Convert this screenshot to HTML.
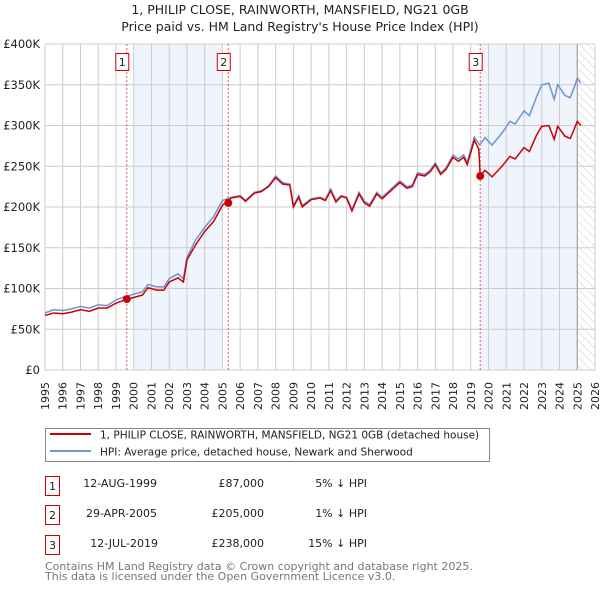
<!DOCTYPE html>
<html><head><meta charset="utf-8"><style>
body{margin:0;background:#fff;}
svg{display:block;font-family:"DejaVu Sans","Liberation Sans",sans-serif;}
</style></head><body>
<svg id="chart" width="600" height="590" viewBox="0 0 600 590">
<defs>
<pattern id="hatch" width="6" height="6" patternUnits="userSpaceOnUse" patternTransform="rotate(-45)">
<line x1="0" y1="0" x2="0" y2="6" stroke="#ccc" stroke-width="1"/>
</pattern>
</defs>
<text x="300" y="14" text-anchor="middle" font-size="12.5" fill="#222">1, PHILIP CLOSE, RAINWORTH, MANSFIELD, NG21 0GB</text>
<text x="300" y="31" text-anchor="middle" font-size="12.5" fill="#222">Price paid vs. HM Land Registry's House Price Index (HPI)</text>
<g id="plot"></g>
<g>
<rect x="45.5" y="428.5" width="444" height="33" fill="#fff" stroke="#888"/>
<line x1="50" y1="434" x2="91" y2="434" stroke="#cc0000" stroke-width="2"/>
<text x="100" y="438.5" font-size="10.5" fill="#222">1, PHILIP CLOSE, RAINWORTH, MANSFIELD, NG21 0GB (detached house)</text>
<line x1="50" y1="451" x2="91" y2="451" stroke="#6a96d2" stroke-width="2"/>
<text x="100" y="455.5" font-size="10.5" fill="#222">HPI: Average price, detached house, Newark and Sherwood</text>
</g>
<g font-size="11" fill="#222">
<rect x="45.5" y="476.5" width="14" height="19" fill="#fff" stroke="#cc0000"/><text x="52.5" y="490" text-anchor="middle">1</text>
<text x="157" y="487" text-anchor="end">12-AUG-1999</text><text x="264" y="487" text-anchor="end">£87,000</text><text x="367" y="487" text-anchor="end">5% ↓ HPI</text>
<rect x="45.5" y="505.5" width="14" height="19" fill="#fff" stroke="#cc0000"/><text x="52.5" y="519" text-anchor="middle">2</text>
<text x="157" y="517" text-anchor="end">29-APR-2005</text><text x="264" y="517" text-anchor="end">£205,000</text><text x="367" y="517" text-anchor="end">1% ↓ HPI</text>
<rect x="45.5" y="535.5" width="14" height="19" fill="#fff" stroke="#cc0000"/><text x="52.5" y="549" text-anchor="middle">3</text>
<text x="158" y="547" text-anchor="end">12-JUL-2019</text><text x="264" y="547" text-anchor="end">£238,000</text><text x="367" y="547" text-anchor="end">15% ↓ HPI</text>
</g>
<text x="45" y="570" font-size="11" fill="#777">Contains HM Land Registry data © Crown copyright and database right 2025.</text>
<text x="45" y="580" font-size="11" fill="#777">This data is licensed under the Open Government Licence v3.0.</text>
</svg>
<script>
const hpiDates=[1995.0,1995.5,1996.0,1996.5,1997.0,1997.5,1998.0,1998.5,1999.0,1999.5,2000.0,2000.5,2000.8,2001.3,2001.7,2002.0,2002.5,2002.8,2003.0,2003.5,2004.0,2004.5,2005.0,2005.5,2006.0,2006.3,2006.8,2007.2,2007.6,2008.0,2008.4,2008.8,2009.0,2009.3,2009.5,2010.0,2010.5,2010.8,2011.1,2011.4,2011.7,2012.0,2012.3,2012.7,2013.0,2013.3,2013.7,2014.0,2014.5,2015.0,2015.4,2015.7,2016.0,2016.4,2016.7,2017.0,2017.3,2017.6,2018.0,2018.3,2018.6,2018.8,2019.2,2019.5,2019.8,2020.2,2020.8,2021.2,2021.5,2022.0,2022.3,2022.7,2023.0,2023.4,2023.7,2023.9,2024.3,2024.6,2024.8,2025.0,2025.2];
const hpiValues=[70,74,73,75,78,76,80,79,86,90,93,96,105,102,102,112,118,112,138,160,175,188,208,212,214,208,218,220,226,238,230,228,202,214,202,210,212,209,222,208,214,212,197,218,207,203,218,212,222,232,225,227,242,240,245,254,242,248,264,259,264,255,286,276,285,276,292,305,302,318,312,335,350,352,332,350,337,334,345,358,352];
const priceDates=[1995.0,1995.5,1996.0,1996.5,1997.0,1997.5,1998.0,1998.5,1999.0,1999.5,2000.0,2000.5,2000.8,2001.3,2001.7,2002.0,2002.5,2002.8,2003.0,2003.5,2004.0,2004.5,2005.0,2005.5,2006.0,2006.3,2006.8,2007.2,2007.6,2008.0,2008.4,2008.8,2009.0,2009.3,2009.5,2010.0,2010.5,2010.8,2011.1,2011.4,2011.7,2012.0,2012.3,2012.7,2013.0,2013.3,2013.7,2014.0,2014.5,2015.0,2015.4,2015.7,2016.0,2016.4,2016.7,2017.0,2017.3,2017.6,2018.0,2018.3,2018.6,2018.8,2019.2,2019.45,2019.53,2019.8,2020.2,2020.8,2021.2,2021.5,2022.0,2022.3,2022.7,2023.0,2023.4,2023.7,2023.9,2024.3,2024.6,2024.8,2025.0,2025.2];
const priceValues=[67,70,69,71,74,72,76,76,82,86,89,92,101,98,98,108,113,108,135,154,170,182,202,211,213,207,217,219,225,236,228,227,200,212,200,209,211,208,220,206,213,211,195,216,205,201,216,210,220,230,223,225,240,238,243,252,240,246,261,256,261,252,282,271,238,245,237,251,262,259,273,268,288,299,300,283,299,287,284,294,305,300];
const saleDates=[1999.61,2005.33,2019.53];
const saleValues=[87,205,238];
const saleLabels=["1","2","3"];
const yTicks=[0,50,100,150,200,250,300,350,400];
const yTickLabels=["£0","£50K","£100K","£150K","£200K","£250K","£300K","£350K","£400K"];
const xTicks=[1995,1996,1997,1998,1999,2000,2001,2002,2003,2004,2005,2006,2007,2008,2009,2010,2011,2012,2013,2014,2015,2016,2017,2018,2019,2020,2021,2022,2023,2024,2025,2026];
const shadeRanges=[[2000,2005],[2019.53,2025.0]];
const dataEnd=2025.0;

const X0=45,X1=595,Y0=370,Y1=44;
const x=d=>X0+(d-1995)/(2026-1995)*(X1-X0);
const y=v=>Y0-v/400*(Y0-Y1);
const NS="http://www.w3.org/2000/svg";
const g=document.getElementById('plot');
function mk(t,a,p){const e=document.createElementNS(NS,t);for(const k in a)e.setAttribute(k,a[k]);(p||g).appendChild(e);return e;}

shadeRanges.forEach((r,i)=>{
 const e=mk('rect',{x:x(r[0]),y:Y1,width:x(r[1])-x(r[0]),height:Y0-Y1,fill:'#f0f4fd'});
 
 
});
const h=mk('rect',{x:x(dataEnd),y:Y1,width:X1-x(dataEnd),height:Y0-Y1,fill:'url(#hatch)'});



xTicks.forEach(t=>{
 const l=mk('line',{x1:x(t),x2:x(t),y1:Y1,y2:Y0,stroke:'#ccc','stroke-width':1});
 
 
 const tx2=x(t)+4, ty2=382;
 const tx=mk('text',{x:tx2,y:ty2,'font-size':11,fill:'#222','text-anchor':'end',transform:'rotate(-90 '+tx2+' '+ty2+')'});
 tx.textContent=t;
 
 
});
yTicks.forEach((t,i)=>{
 const l=mk('line',{x1:X0,x2:X1,y1:y(t),y2:y(t),stroke:'#ccc','stroke-width':1});
 
 
 const tx=mk('text',{x:40,y:y(t)+4,'font-size':11.5,fill:'#222','text-anchor':'end'});
 tx.textContent=yTickLabels[i];
 
 
});
const ed=mk('line',{x1:x(dataEnd),x2:x(dataEnd),y1:Y1,y2:Y0,stroke:'#999','stroke-width':1});



saleDates.forEach((d,i)=>{
 const l=mk('line',{x1:x(d),x2:x(d),y1:Y1,y2:Y0,stroke:'#ee5555','stroke-width':1,'stroke-dasharray':'2,2'});
 
 
});

const hp=mk('polyline',{points:hpiDates.map((d,i)=>x(d)+','+y(hpiValues[i])).join(' '),fill:'none',stroke:'#6a96d2','stroke-width':1.5});


const pp=mk('polyline',{points:priceDates.map((d,i)=>x(d)+','+y(priceValues[i])).join(' '),fill:'none',stroke:'#cc0000','stroke-width':1.5});



saleDates.forEach((d,i)=>{
 const c=mk('circle',{cx:x(d),cy:y(saleValues[i]),r:4,fill:'#cc0000'});
 
 
 const b=mk('rect',{x:x(d)-11,y:53.5,width:13,height:17,fill:'#fff',stroke:'#cc0000'});
 
 
 const t=mk('text',{x:x(d)-4.5,y:66,'font-size':11,fill:'#222','text-anchor':'middle'});
 t.textContent=saleLabels[i];
 
 
});
</script>
</body></html>
